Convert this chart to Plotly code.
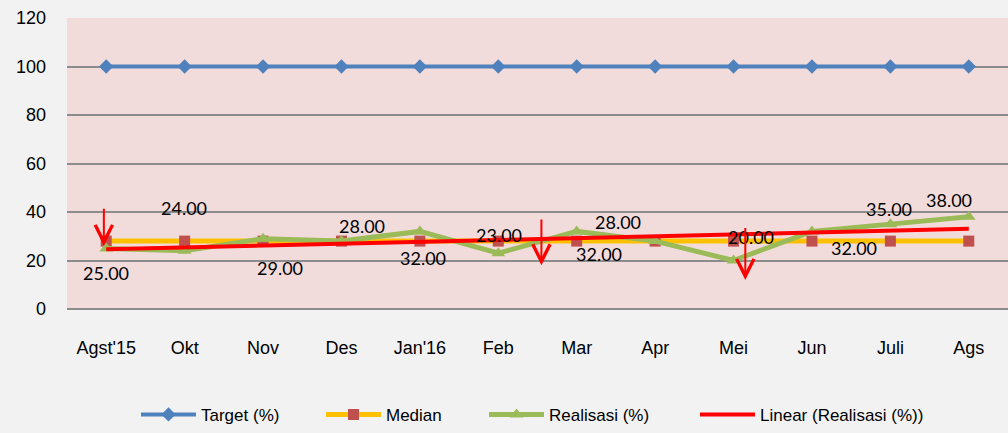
import numpy as np
import plotly.graph_objects as go

months = ["Agst'15", "Okt", "Nov", "Des", "Jan'16", "Feb", "Mar", "Apr", "Mei", "Jun", "Juli", "Ags"]
target = [100] * 12
median = [28] * 12
realisasi = [25, 24, 29, 28, 32, 23, 32, 28, 20, 32, 35, 38]
yticks = [0, 20, 40, 60, 80, 100, 120]

# label offsets (pixels) for realisasi data labels
lab_dx = [0, -1, 17, 21, 3, 1, 22, -37, 17, 42, -1, -20]
lab_dy = [-25, 43, -29, 15, -27, 18, -23, 19, 24, -17, 15, 17]

# linear trend (Excel-style linear trendline of Realisasi)
xi = np.arange(1, 13)
slope, intercept = np.polyfit(xi, realisasi, 1)
trend = list(slope * xi + intercept)

LABEL_FONT = "Lato, Open Sans, sans-serif"
AX_FONT = "Liberation Sans Narrow, Liberation Sans, Arial, sans-serif"

fig = go.Figure()
fig.add_trace(go.Scatter(x=months, y=target, name="Target (%)", mode="lines+markers",
                         line=dict(color="#4F81BD", width=4), legend="legend",
                         marker=dict(symbol="diamond", size=11, color="#4F81BD")))
fig.add_trace(go.Scatter(x=months, y=median, name="Median", mode="lines+markers",
                         line=dict(color="#FFC000", width=5), legend="legend2",
                         marker=dict(symbol="square", size=11, color="#C0504D")))
fig.add_trace(go.Scatter(x=months, y=realisasi, name="Realisasi (%)", mode="lines+markers",
                         line=dict(color="#9BBB59", width=5), legend="legend3",
                         marker=dict(symbol="triangle-up", size=12, color="#9BBB59")))
fig.add_trace(go.Scatter(x=months, y=trend, name="Linear (Realisasi (%))", mode="lines",
                         line=dict(color="#FF0000", width=4), legend="legend4"))

for i, v in enumerate(realisasi):
    fig.add_annotation(x=months[i], y=v, text=f"{v:.2f}", showarrow=False,
                       xshift=lab_dx[i], yshift=lab_dy[i],
                       font=dict(family=LABEL_FONT, size=18, color="#000000"))

# red arrows
arrows = [(-0.03, 42, 26), (5.55, 37.5, 18), (8.15, 34, 12)]
for xc, y0, y1 in arrows:
    fig.add_annotation(x=xc, y=y1, ax=xc, ay=y0, xref="x", yref="y", axref="x", ayref="y",
                       text="", showarrow=True, arrowhead=5, arrowsize=1.7,
                       arrowwidth=2, arrowcolor="#FF0000")

PW = 941.0
def lg(px):
    return dict(orientation="h", x=(px - 67) / PW, xanchor="left", y=-0.364, yanchor="middle",
                font=dict(family=AX_FONT, size=17, color="#000000"), itemwidth=55,
                bgcolor="rgba(0,0,0,0)")

fig.update_layout(
    width=1008, height=433,
    paper_bgcolor="#F2F2F2", plot_bgcolor="#F2DCDB",
    margin=dict(l=67, r=0, t=18, b=124),
    font=dict(family=AX_FONT, size=17, color="#000000"),
    showlegend=True,
    legend=lg(136), legend2=lg(321), legend3=lg(484), legend4=lg(695),
)
fig.update_xaxes(type="category", range=[-0.5, 11.5], showgrid=False, showline=False,
                 zeroline=False, ticks="", ticklabelstandoff=26,
                 tickfont=dict(family=AX_FONT, size=18))
fig.update_yaxes(range=[0, 120], tickvals=yticks, showgrid=True, gridcolor="#8C8C8C",
                 gridwidth=1.5, zeroline=True, zerolinecolor="#8C8C8C", zerolinewidth=1.5,
                 ticks="", ticklabelstandoff=20, tickfont=dict(family=AX_FONT, size=18))

fig.write_html("out.html", config={"displayModeBar": False},
               post_script="document.body.style.margin='0';document.body.style.overflow='hidden';")
